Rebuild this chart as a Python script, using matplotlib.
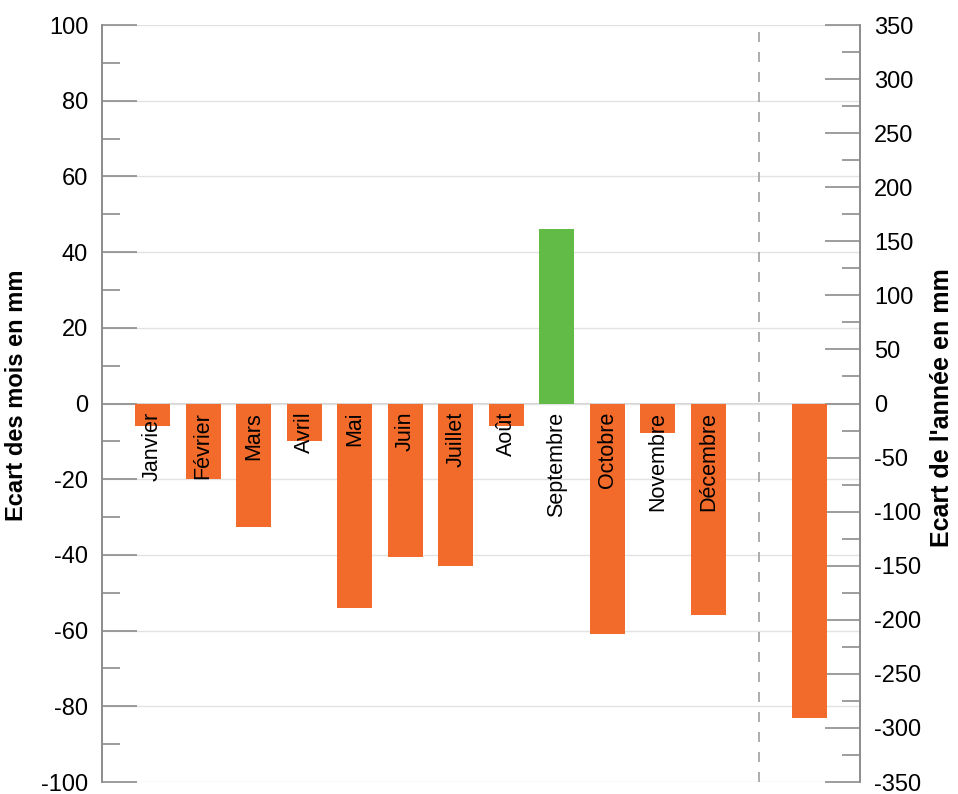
import matplotlib.pyplot as plt
from matplotlib.ticker import MultipleLocator

plt.rcParams['font.family'] = ['Liberation Sans', 'DejaVu Sans']
plt.rcParams['axes.unicode_minus'] = False

# Données
mois = ['Janvier', 'Février', 'Mars', 'Avril', 'Mai', 'Juin', 'Juillet',
        'Août', 'Septembre', 'Octobre', 'Novembre', 'Décembre']
ecart_mois = [-6, -20, -32.5, -10, -54, -40.5, -43, -6, 46, -61, -7.7, -56]
annee_label = 'Année'
ecart_annee = -291

orange = '#F26B2A'
vert = '#62BB46'
gris = '#8c8c8c'

fig = plt.figure(figsize=(9.58, 7.94), dpi=100)
ax = fig.add_axes([0.1065, 0.0151, 0.7912, 0.9534])
ax2 = ax.twinx()

# Barres des mois (axe gauche)
x_mois = list(range(1, len(mois) + 1))
couleurs = [vert if v > 0 else orange for v in ecart_mois]
ax.bar(x_mois, ecart_mois, width=0.69, color=couleurs, zorder=3)

# Barre de l'année (axe droit)
x_annee = len(mois) + 2
ax2.bar([x_annee], [ecart_annee], width=0.69, color=orange, zorder=3)

# Séparateur
ax.axvline(len(mois) + 1, color='#a0a0a0', linestyle=(0, (6, 6)), lw=1.2, zorder=2)

# Etiquettes dans le graphique
for x, m in zip(x_mois, mois):
    ax.text(x, -2.2, m, rotation=90, ha='center', va='top', fontsize=15.5, zorder=5)
ax.text(x_annee, -2.2, annee_label, rotation=90, ha='center', va='top', fontsize=15.5, zorder=5)

ax.set_xlim(0, 15)
ax.set_ylim(-100, 100)
ax2.set_ylim(-350, 350)

ax.yaxis.set_major_locator(MultipleLocator(20))
ax.yaxis.set_minor_locator(MultipleLocator(10))
ax2.yaxis.set_major_locator(MultipleLocator(50))
ax2.yaxis.set_minor_locator(MultipleLocator(25))

ax.set_xticks([])
ax.grid(axis='y', color='#e2e2e2', lw=1, zorder=0)
ax.axhline(0, color='#c8c8c8', lw=1.2, zorder=1)

for a in (ax, ax2):
    a.tick_params(axis='y', which='major', direction='in', length=25, width=1.2,
                  color=gris, labelsize=17, pad=10)
    a.tick_params(axis='y', which='minor', direction='in', length=13, width=1.2, color=gris)
    a.spines['top'].set_visible(False)
    a.spines['bottom'].set_visible(False)
    a.spines['left'].set_color(gris)
    a.spines['right'].set_color(gris)
    a.spines['left'].set_linewidth(1.2)
    a.spines['right'].set_linewidth(1.2)

ax.set_ylabel('Ecart des mois en mm', fontsize=17, fontweight='bold')
ax2.set_ylabel("Ecart de l'année en mm", fontsize=18, fontweight='bold')
ax.yaxis.set_label_coords(-0.098, 0.511)
ax2.yaxis.set_label_coords(1.093, 0.495)

fig.savefig('out.png', dpi=100)
